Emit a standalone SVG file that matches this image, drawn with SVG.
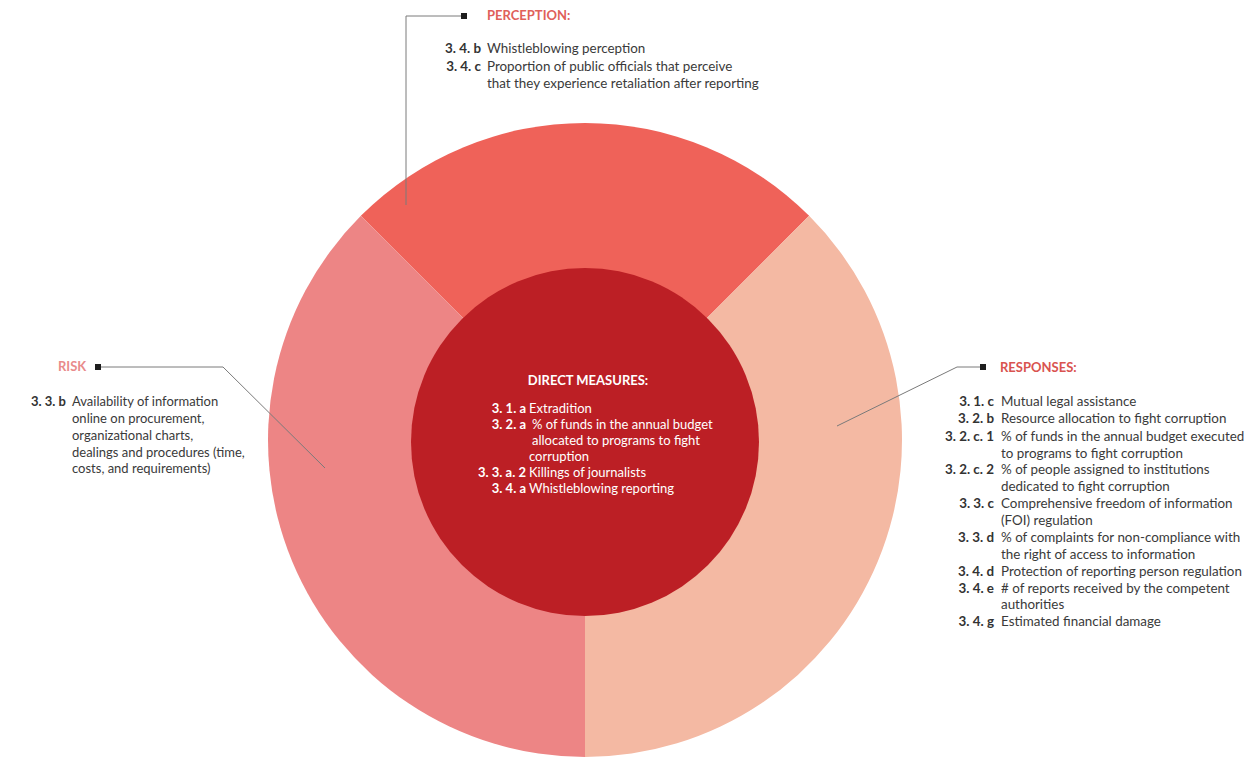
<svg xmlns="http://www.w3.org/2000/svg" width="1255" height="758" viewBox="0 0 1255 758">
  <style>
    text { font-family: Lato, "Open Sans", "Liberation Sans", sans-serif; font-size: 13px; fill: #3a3a3a; }
    .code { font-weight: bold; text-anchor: end; fill: #333333; }
    .title { font-weight: bold; font-size: 13px; }
    .inv { fill: #ffffff; }
    .wide text { font-size: 13.4px; }
    .wide text.title { font-size: 13px; }
    .conn { fill: none; stroke: #7a7a7a; stroke-width: 1; }
    .pin { fill: #1e1e1e; }
  </style>

  <!-- ring sectors and core -->
  <g id="perception-sector">
    <path d="M585,440 L360.85,215.85 A317,317 0 0 1 809.15,215.85 Z" fill="#EF6259"/>
  </g>
  <g id="responses-sector">
    <path d="M585,440 L809.15,215.85 A317,317 0 0 1 585,757 Z" fill="#F4B9A3"/>
  </g>
  <g id="risk-sector">
    <path d="M585,440 L585,757 A317,317 0 0 1 360.85,215.85 Z" fill="#ED8585"/>
  </g>

  <g id="direct-measures">
    <circle cx="585" cy="442" r="174" fill="#BC1F25"/>
    <text class="title inv" x="588" y="385" text-anchor="middle">DIRECT MEASURES:</text>
    <text class="code inv" x="526" y="413">3. 1. a</text>
    <text class="inv" x="529" y="413">Extradition</text>
    <text class="code inv" x="526" y="429">3. 2. a</text>
    <text class="inv" x="532" y="429">% of funds in the annual budget</text>
    <text class="inv" x="532" y="445">allocated to programs to fight</text>
    <text class="inv" x="529" y="461">corruption</text>
    <text class="code inv" x="526" y="477">3. 3. a. 2</text>
    <text class="inv" x="529" y="477">Killings of journalists</text>
    <text class="code inv" x="526" y="493">3. 4. a</text>
    <text class="inv" x="529" y="493">Whistleblowing reporting</text>
  </g>

  <!-- leader lines -->
  <g id="connectors">
    <polyline class="conn" points="464,16 406,16 406,205"/>
    <polyline class="conn" points="98,367 223,367 325,468"/>
    <polyline class="conn" points="983,367 957,367 837,426"/>
    <rect class="pin" x="461" y="13" width="6" height="6"/>
    <rect class="pin" x="95" y="364" width="6" height="6"/>
    <rect class="pin" x="980" y="364" width="6" height="6"/>
  </g>

  <g id="perception" class="wide">
    <text class="title" x="487" y="20" style="fill:#E0605A">PERCEPTION:</text>
    <text class="code" x="481" y="53">3. 4. b</text>
    <text x="487" y="53">Whistleblowing perception</text>
    <text class="code" x="481" y="71">3. 4. c</text>
    <text x="487" y="71">Proportion of public officials that perceive</text>
    <text x="487" y="88">that they experience retaliation after reporting</text>
  </g>

  <g id="risk">
    <text class="title" x="58" y="371" style="fill:#E98B8B">RISK</text>
    <text class="code" x="66" y="406">3. 3. b</text>
    <text x="72" y="406">Availability of information</text>
    <text x="72" y="423">online on procurement,</text>
    <text x="72" y="440">organizational charts,</text>
    <text x="72" y="457">dealings and procedures (time,</text>
    <text x="72" y="473">costs, and requirements)</text>
  </g>

  <g id="responses" class="wide">
    <text class="title" x="1000" y="372" style="fill:#D9534F">RESPONSES:</text>
    <text class="code" x="994" y="406">3. 1. c</text>
    <text x="1001" y="406">Mutual legal assistance</text>
    <text class="code" x="994" y="423">3. 2. b</text>
    <text x="1001" y="423">Resource allocation to fight corruption</text>
    <text class="code" x="994" y="441">3. 2. c. 1</text>
    <text x="1001" y="441">% of funds in the annual budget executed</text>
    <text x="1001" y="458">to programs to fight corruption</text>
    <text class="code" x="994" y="474">3. 2. c. 2</text>
    <text x="1001" y="474">% of people assigned to institutions</text>
    <text x="1001" y="491">dedicated to fight corruption</text>
    <text class="code" x="994" y="508">3. 3. c</text>
    <text x="1001" y="508">Comprehensive freedom of information</text>
    <text x="1001" y="525">(FOI) regulation</text>
    <text class="code" x="994" y="542">3. 3. d</text>
    <text x="1001" y="542">% of complaints for non-compliance with</text>
    <text x="1001" y="559">the right of access to information</text>
    <text class="code" x="994" y="576">3. 4. d</text>
    <text x="1001" y="576">Protection of reporting person regulation</text>
    <text class="code" x="994" y="593">3. 4. e</text>
    <text x="1001" y="593"># of reports received by the competent</text>
    <text x="1001" y="609">authorities</text>
    <text class="code" x="994" y="626">3. 4. g</text>
    <text x="1001" y="626">Estimated financial damage</text>
  </g>
</svg>
